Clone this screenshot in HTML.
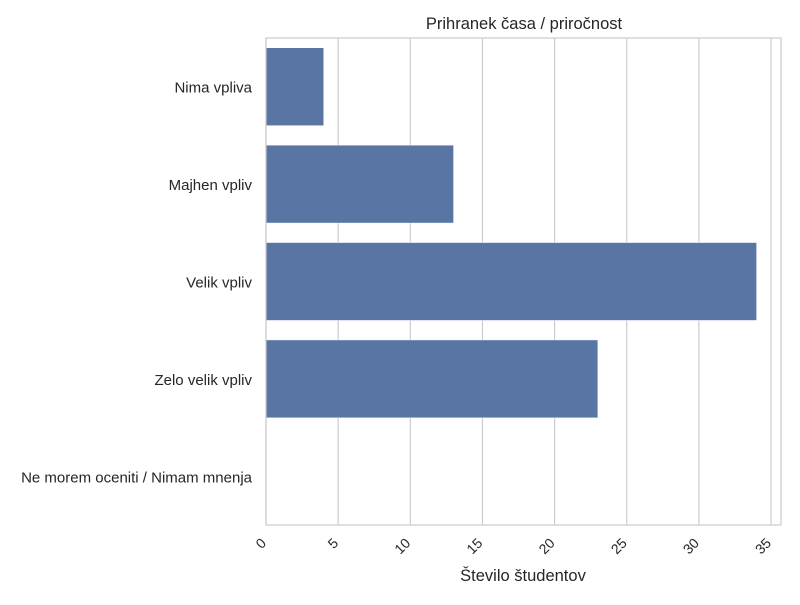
<!DOCTYPE html>
<html><head><meta charset="utf-8"><style>
body{margin:0;background:#fff;}
svg text{font-family:"Liberation Sans","DejaVu Sans",sans-serif;fill:#262626;}
</style></head><body>
<svg id="chart" width="800" height="600">
<text x="524" y="29" text-anchor="middle" font-size="16.5">Prihranek časa / priročnost</text>
<g id="grid"></g>
<g id="bars"></g>
<rect x="266" y="38" width="515" height="487" fill="none" stroke="#ccc" stroke-width="1.2"/>
<g id="ylabels"></g>
<g id="xlabels"></g>
<text x="523" y="581" text-anchor="middle" font-size="16.5">Število študentov</text>
</svg>
<script>
const categories=["Nima vpliva","Majhen vpliv","Velik vpliv","Zelo velik vpliv","Ne morem oceniti / Nimam mnenja"];
const values=[4,13,34,23,0];
const ticks=[0,5,10,15,20,25,30,35];
const NS="http://www.w3.org/2000/svg";
const x0=266,pxPer=14.43,plotTop=38,bandH=487/categories.length;
const xs=v=>x0+v*pxPer;
function mk(t,a,p){const e=document.createElementNS(NS,t);for(const k in a)e.setAttribute(k,a[k]);p.appendChild(e);return e;}
const grid=document.getElementById('grid'),xl=document.getElementById('xlabels');
ticks.forEach(t=>{
  const l=mk('line',{x1:xs(t),x2:xs(t),y1:plotTop,y2:525,stroke:'#ccc','stroke-width':1.2},grid);
  
  
  const ax=xs(t)+1,ay=544;
  const tx=mk('text',{x:ax,y:ay,'font-size':14,'text-anchor':'end',transform:`rotate(-45 ${ax} ${ay})`},xl);
  tx.textContent=t;
  
  
});
const bars=document.getElementById('bars'),yl=document.getElementById('ylabels');
categories.forEach((c,i)=>{
  const cy=plotTop+bandH*(i+0.5),h=bandH*0.8;
  if(values[i]>0){
    const r=mk('rect',{x:x0,y:cy-h/2,width:xs(values[i])-x0,height:h,fill:'#5875a4',stroke:'#fff','stroke-width':0.5},bars);
    
    
  }
  const t=mk('text',{x:252,y:cy+6,'font-size':15,'text-anchor':'end'},yl);
  t.textContent=c;
  
  
});
</script>
</body></html>
